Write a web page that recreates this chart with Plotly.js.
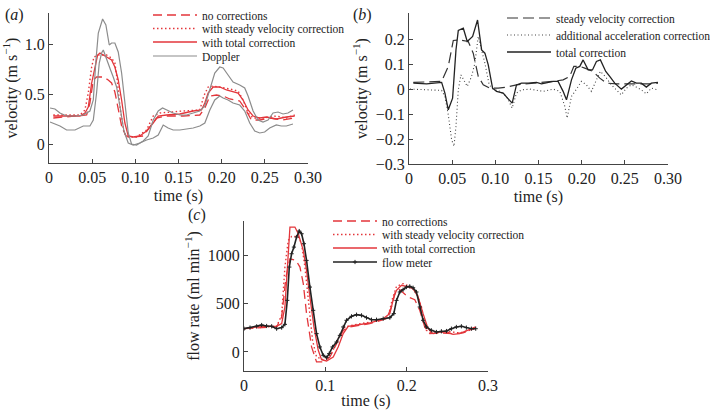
<!DOCTYPE html>
<html><head><meta charset="utf-8">
<script src="https://cdn.plot.ly/plotly-3.0.1.min.js"></script>
<style>html,body{margin:0;padding:0;background:#fff}#chart{width:710px;height:410px}</style>
</head><body><div id="chart"></div>
<script>
// ---------- Panel (a): velocity ----------
const aNoCorrT = [0.0050,0.0204,0.0359,0.0436,0.0474,0.0513,0.0551,0.0629,0.0686,0.0725,0.0763,0.0802,0.0841,0.0891,0.0976,0.1091,0.1188,0.1245,0.1361,0.1554,0.1747,0.1805,0.1863,0.1940,0.2017,0.2094,0.2209,0.2287,0.2344,0.2441,0.2556,0.2711,0.2846];
const aNoCorrV = [0.26,0.27,0.28,0.29,0.41,0.64,0.67,0.67,0.64,0.61,0.52,0.34,0.18,0.08,0.07,0.08,0.19,0.26,0.28,0.28,0.29,0.36,0.48,0.49,0.48,0.45,0.43,0.33,0.24,0.24,0.26,0.24,0.26];
const aSteadyT = [0.0050,0.0359,0.0416,0.0455,0.0494,0.0521,0.0571,0.0667,0.0725,0.0763,0.0790,0.0821,0.0868,0.0918,0.1014,0.1130,0.1207,0.1284,0.1554,0.1747,0.1793,0.1843,0.1901,0.1978,0.2094,0.2190,0.2248,0.2306,0.2364,0.2479,0.2633,0.2749,0.2846];
const aSteadyV = [0.29,0.29,0.34,0.51,0.77,0.87,0.89,0.89,0.86,0.81,0.64,0.38,0.11,0.07,0.07,0.14,0.28,0.31,0.33,0.34,0.48,0.57,0.58,0.57,0.55,0.53,0.44,0.31,0.26,0.26,0.28,0.26,0.29];
const aTotalT = [0.0050,0.0204,0.0359,0.0416,0.0455,0.0494,0.0532,0.0563,0.0590,0.0629,0.0667,0.0725,0.0763,0.0802,0.0841,0.0879,0.0918,0.0976,0.1053,0.1130,0.1207,0.1265,0.1361,0.1515,0.1670,0.1766,0.1805,0.1843,0.1901,0.1978,0.2055,0.2132,0.2190,0.2248,0.2306,0.2364,0.2441,0.2518,0.2633,0.2749,0.2846];
const aTotalV = [0.28,0.28,0.28,0.31,0.37,0.61,0.77,0.89,0.91,0.89,0.87,0.84,0.77,0.64,0.44,0.21,0.08,0.07,0.08,0.13,0.21,0.28,0.29,0.30,0.33,0.34,0.41,0.51,0.57,0.57,0.54,0.52,0.51,0.44,0.34,0.28,0.26,0.27,0.25,0.27,0.28];
const aDopHiT = [0.0012,0.0069,0.0127,0.0204,0.0320,0.0397,0.0474,0.0513,0.0544,0.0571,0.0621,0.0659,0.0698,0.0725,0.0763,0.0802,0.0841,0.0879,0.0918,0.0956,0.1014,0.1091,0.1149,0.1207,0.1265,0.1315,0.1361,0.1438,0.1515,0.1593,0.1670,0.1747,0.1805,0.1863,0.1920,0.1978,0.2017,0.2074,0.2132,0.2209,0.2267,0.2306,0.2364,0.2421,0.2479,0.2537,0.2595,0.2653,0.2711,0.2768,0.2826];
const aDopHiV = [0.36,0.35,0.31,0.28,0.28,0.29,0.33,0.44,0.84,1.11,1.25,1.19,0.99,1.01,1.01,0.92,0.71,0.38,0.11,0.00,-0.01,0.03,0.08,0.24,0.33,0.36,0.34,0.31,0.29,0.29,0.31,0.33,0.38,0.56,0.71,0.77,0.76,0.69,0.62,0.59,0.56,0.48,0.33,0.24,0.22,0.24,0.31,0.32,0.30,0.31,0.34];
const aDopLoT = [0.0012,0.0069,0.0127,0.0204,0.0301,0.0397,0.0474,0.0513,0.0551,0.0582,0.0609,0.0629,0.0659,0.0686,0.0713,0.0744,0.0783,0.0821,0.0868,0.0918,0.0976,0.1053,0.1130,0.1207,0.1265,0.1323,0.1380,0.1438,0.1515,0.1593,0.1670,0.1747,0.1805,0.1863,0.1920,0.1978,0.2017,0.2074,0.2132,0.2209,0.2267,0.2325,0.2383,0.2441,0.2498,0.2556,0.2633,0.2691,0.2749,0.2826];
const aDopLoV = [0.22,0.20,0.18,0.14,0.14,0.18,0.18,0.24,0.51,0.81,0.91,0.94,0.86,0.79,0.74,0.67,0.57,0.38,0.13,0.01,-0.01,0.01,0.04,0.06,0.09,0.19,0.16,0.14,0.14,0.15,0.16,0.18,0.21,0.34,0.44,0.48,0.46,0.44,0.41,0.39,0.33,0.21,0.13,0.11,0.12,0.16,0.19,0.18,0.18,0.20];

// ---------- Panel (b): corrections ----------
const bSteadyT = [0.0050,0.0378,0.0455,0.0513,0.0590,0.0686,0.0744,0.0802,0.0860,0.0937,0.1033,0.1130,0.1245,0.1477,0.1708,0.1785,0.1862,0.1909,0.1978,0.2036,0.2132,0.2210,0.2287,0.2402,0.2595,0.2788,0.2884];
const bSteadyV = [0.027,0.031,0.091,0.195,0.197,0.191,0.144,0.051,0.017,0.004,0.004,0.008,0.017,0.024,0.033,0.037,0.051,0.091,0.091,0.084,0.071,0.044,0.024,0.021,0.020,0.021,0.024];
const bAccelT = [0.0012,0.0204,0.0378,0.0416,0.0455,0.0494,0.0521,0.0544,0.0571,0.0602,0.0636,0.0675,0.0725,0.0763,0.0802,0.0841,0.0879,0.0929,0.0976,0.1053,0.1130,0.1195,0.1245,0.1303,0.1400,0.1554,0.1670,0.1747,0.1805,0.1832,0.1882,0.1940,0.1997,0.2055,0.2113,0.2171,0.2217,0.2279,0.2344,0.2402,0.2460,0.2518,0.2576,0.2634,0.2691,0.2749,0.2807,0.2884];
const bAccelV = [0.000,-0.003,-0.005,-0.029,-0.103,-0.203,-0.229,-0.149,-0.003,0.057,0.037,0.011,0.051,0.104,0.211,0.157,0.104,0.017,0.000,-0.009,-0.029,-0.076,-0.016,-0.003,0.000,-0.009,0.000,-0.009,-0.069,-0.116,-0.029,0.000,0.031,0.017,-0.009,0.037,0.071,0.048,0.017,-0.003,-0.023,0.004,0.017,0.008,-0.003,-0.019,0.004,-0.003];
const bTotalT = [0.0050,0.0204,0.0378,0.0416,0.0455,0.0505,0.0544,0.0571,0.0629,0.0675,0.0737,0.0794,0.0841,0.0879,0.0918,0.0968,0.1014,0.1091,0.1141,0.1195,0.1245,0.1303,0.1380,0.1477,0.1535,0.1612,0.1670,0.1727,0.1785,0.1824,0.1882,0.1932,0.1978,0.2017,0.2075,0.2125,0.2171,0.2217,0.2279,0.2325,0.2383,0.2460,0.2518,0.2576,0.2634,0.2691,0.2749,0.2807,0.2884];
const bTotalV = [0.024,0.021,0.027,-0.016,-0.083,-0.036,0.157,0.235,0.244,0.191,0.211,0.277,0.157,0.144,0.097,0.004,-0.009,-0.016,-0.036,-0.056,0.017,0.024,0.024,0.027,0.021,0.027,0.031,0.031,-0.009,-0.043,0.037,0.084,0.091,0.117,0.077,0.077,0.111,0.117,0.071,0.051,0.024,0.000,0.017,0.033,0.024,0.024,0.008,0.024,0.027];

// ---------- Panel (c): flow rate ----------
const cNoCorrT = [0.0000,0.0401,0.0463,0.0516,0.0565,0.0639,0.0688,0.0729,0.0769,0.0831,0.0892,0.0974,0.1056,0.1138,0.1220,0.1302,0.1547,0.1752,0.1813,0.1866,0.1916,0.2018,0.2100,0.2161,0.2222,0.2284,0.2407,0.2570,0.2693,0.2849];
const cNoCorrF = [241,259,362,776,965,948,879,707,397,52,-103,-103,-52,86,224,259,293,345,466,638,645,569,541,431,259,190,197,190,197,252];
const cSteadyT = [0.0000,0.0401,0.0463,0.0503,0.0544,0.0585,0.0667,0.0708,0.0749,0.0790,0.0843,0.0892,0.0974,0.1076,0.1158,0.1240,0.1383,0.1629,0.1772,0.1825,0.1875,0.1956,0.2038,0.2120,0.2182,0.2243,0.2325,0.2489,0.2652,0.2849];
const cSteadyF = [241,266,379,879,1155,1196,1196,1121,879,534,121,-52,-79,-17,138,259,286,321,362,552,679,707,679,621,466,224,190,214,197,241];
const cTotalT = [0.0000,0.0237,0.0401,0.0463,0.0503,0.0532,0.0565,0.0626,0.0667,0.0729,0.0769,0.0810,0.0860,0.0913,0.0954,0.1015,0.1097,0.1158,0.1220,0.1281,0.1383,0.1547,0.1711,0.1793,0.1842,0.1875,0.1936,0.1997,0.2079,0.2141,0.2202,0.2263,0.2325,0.2407,0.2489,0.2570,0.2652,0.2734,0.2849];
const cTotalF = [241,266,266,293,466,879,1293,1293,1224,1052,845,569,259,17,-79,-93,-52,52,190,266,276,300,345,397,569,638,690,679,655,569,397,241,190,207,207,183,190,217,259];
const cMeterT = [0.0000,0.0074,0.0156,0.0217,0.0278,0.0340,0.0401,0.0463,0.0503,0.0532,0.0557,0.0585,0.0614,0.0647,0.0679,0.0708,0.0737,0.0769,0.0810,0.0851,0.0892,0.0933,0.0974,0.1015,0.1048,0.1089,0.1138,0.1179,0.1220,0.1261,0.1322,0.1383,0.1445,0.1506,0.1568,0.1629,0.1711,0.1793,0.1842,0.1875,0.1916,0.1956,0.1997,0.2038,0.2079,0.2120,0.2161,0.2202,0.2243,0.2304,0.2366,0.2427,0.2489,0.2550,0.2611,0.2673,0.2734,0.2796,0.2849];
const cMeterF = [241,252,266,279,269,266,241,252,286,534,879,1017,1086,1190,1252,1224,1121,948,672,431,190,52,-34,-59,-17,52,103,172,259,328,369,386,379,355,334,334,345,355,397,534,621,645,672,679,665,621,466,328,259,224,207,214,217,241,259,266,252,241,241];

// ---------- Tick labels ----------
const aXTicks = [0,0.05,0.10,0.15,0.20,0.25,0.30];
const aXText = ['0','0.05','0.10','0.15','0.20','0.25','0.30'];
const aYTicks = [0,0.5,1.0];
const aYText = ['0','0.5','1.0'];
const bYTicks = [-0.3,-0.2,-0.1,0,0.1,0.2];
const bYText = ['\u22120.3','\u22120.2','\u22120.1','0','0.1','0.2'];
const cXTicks = [0,0.1,0.2,0.3];
const cXText = ['0','0.1','0.2','0.3'];
const cYTicks = [0,500,1000];
const cYText = ['0','500','1000'];

const RED = '#e3363b', GRAY = '#8c8c8c', DARK = '#222';
const FONT = '"Liberation Serif", serif';

const traces = [
  {x:aNoCorrT, y:aNoCorrV, name:'no corrections', xaxis:'x', yaxis:'y', legend:'legend', line:{color:RED, width:1.3, dash:'9px,5px'}},
  {x:aSteadyT, y:aSteadyV, name:'with steady velocity correction', xaxis:'x', yaxis:'y', legend:'legend2', line:{color:RED, width:1.4, dash:'1.5px,2.5px'}},
  {x:aTotalT, y:aTotalV, name:'with total correction', xaxis:'x', yaxis:'y', legend:'legend3', line:{color:RED, width:1.3}},
  {x:aDopHiT, y:aDopHiV, name:'Doppler', xaxis:'x', yaxis:'y', legend:'legend4', line:{color:GRAY, width:1.2}},
  {x:aDopLoT, y:aDopLoV, name:'Doppler', xaxis:'x', yaxis:'y', showlegend:false, line:{color:GRAY, width:1.2}},

  {x:bSteadyT, y:bSteadyV, name:'steady velocity correction', xaxis:'x2', yaxis:'y2', legend:'legend5', line:{color:'#333', width:1.2, dash:'11px,5px'}},
  {x:bAccelT, y:bAccelV, name:'additional acceleration correction', xaxis:'x2', yaxis:'y2', legend:'legend6', line:{color:'#444', width:1.1, dash:'1px,2.5px'}},
  {x:bTotalT, y:bTotalV, name:'total correction', xaxis:'x2', yaxis:'y2', legend:'legend7', line:{color:'#222', width:1.3}},

  {x:cNoCorrT, y:cNoCorrF, name:'no corrections', xaxis:'x3', yaxis:'y3', legend:'legend8', line:{color:RED, width:1.3, dash:'9px,5px'}},
  {x:cSteadyT, y:cSteadyF, name:'with steady velocity correction', xaxis:'x3', yaxis:'y3', legend:'legend9', line:{color:RED, width:1.4, dash:'1.5px,2.5px'}},
  {x:cTotalT, y:cTotalF, name:'with total correction', xaxis:'x3', yaxis:'y3', legend:'legend10', line:{color:RED, width:1.3}},
  {x:cMeterT, y:cMeterF, name:'flow meter', xaxis:'x3', yaxis:'y3', legend:'legend11', mode:'lines+markers', line:{color:DARK, width:1.6}, marker:{symbol:'cross-thin-open', size:3, color:DARK, line:{width:1, color:DARK}}}
];
traces.forEach(t => { if(!t.mode) t.mode = 'lines'; t.hoverinfo = 'skip'; });

function axis(extra){
  return Object.assign({showline:true, linecolor:'#444', linewidth:1, ticks:'inside', ticklen:4, tickcolor:'#444',
    showgrid:false, zeroline:false, automargin:false, tickfont:{family:FONT, size:16, color:'#222'}, fixedrange:true, tickmode:'array'}, extra);
}
function leg(x, y){
  return {x:x, y:y, xanchor:'left', yanchor:'middle', bgcolor:'rgba(0,0,0,0)', borderwidth:0,
    font:{family:FONT, size:11.5, color:'#222'}, itemwidth:44, itemclick:false, itemdoubleclick:false};
}
const W = 710, H = 410;
const px = v => v / W, py = v => 1 - v / H;
const TT = {family:FONT, size:16, color:'#222'};

const layout = {
  width:W, height:H, margin:{l:0, r:0, t:0, b:0, autoexpand:false}, paper_bgcolor:'#fff', plot_bgcolor:'rgba(0,0,0,0)',
  font:{family:FONT, size:15, color:'#222'}, showlegend:true,
  xaxis: axis({domain:[px(49), px(308)], range:[0,0.30], tickvals:aXTicks, ticktext:aXText, anchor:'y',
    title:{text:'time (s)', font:TT, standoff:4}}),
  yaxis: axis({domain:[py(163), py(13)], range:[-0.19,1.31], tickvals:aYTicks, ticktext:aYText, anchor:'x',
    title:{text:'velocity (m s<sup>\u22121</sup>)', font:TT, standoff:4}}),
  xaxis2: axis({domain:[px(409), px(668)], range:[0,0.30], tickvals:aXTicks, ticktext:aXText, anchor:'y2',
    title:{text:'time (s)', font:TT, standoff:4}}),
  yaxis2: axis({domain:[py(164), py(13)], range:[-0.3,0.305], tickvals:bYTicks, ticktext:bYText, anchor:'x2',
    title:{text:'velocity (m s<sup>\u22121</sup>)', font:TT, standoff:4}}),
  xaxis3: axis({domain:[px(244), px(488)], range:[0,0.3], tickvals:cXTicks, ticktext:cXText, anchor:'y3',
    title:{text:'time (s)', font:TT, standoff:4}}),
  yaxis3: axis({domain:[py(371), py(221)], range:[-197,1356], tickvals:cYTicks, ticktext:cYText, anchor:'x3',
    title:{text:'flow rate (ml min<sup>\u22121</sup>)', font:TT, standoff:4}}),
  legend: leg(px(148), py(15)),
  legend2: leg(px(148), py(28.5)),
  legend3: leg(px(148), py(42)),
  legend4: leg(px(148), py(56)),
  legend5: leg(px(502), py(18)),
  legend6: leg(px(502), py(35)),
  legend7: leg(px(502), py(52)),
  legend8: leg(px(328), py(221)),
  legend9: leg(px(328), py(234.5)),
  legend10: leg(px(328), py(248)),
  legend11: leg(px(328), py(262)),
  annotations: [
    {text:'(<i>a</i>)', x:px(3), y:py(15), xref:'paper', yref:'paper', xanchor:'left', yanchor:'middle', showarrow:false, font:{family:FONT, size:16}},
    {text:'(<i>b</i>)', x:px(351), y:py(15), xref:'paper', yref:'paper', xanchor:'left', yanchor:'middle', showarrow:false, font:{family:FONT, size:16}},
    {text:'(<i>c</i>)', x:px(186), y:py(215), xref:'paper', yref:'paper', xanchor:'left', yanchor:'middle', showarrow:false, font:{family:FONT, size:16}}
  ]
};

Plotly.newPlot('chart', traces, layout, {displayModeBar:false, staticPlot:true});
</script></body></html>
